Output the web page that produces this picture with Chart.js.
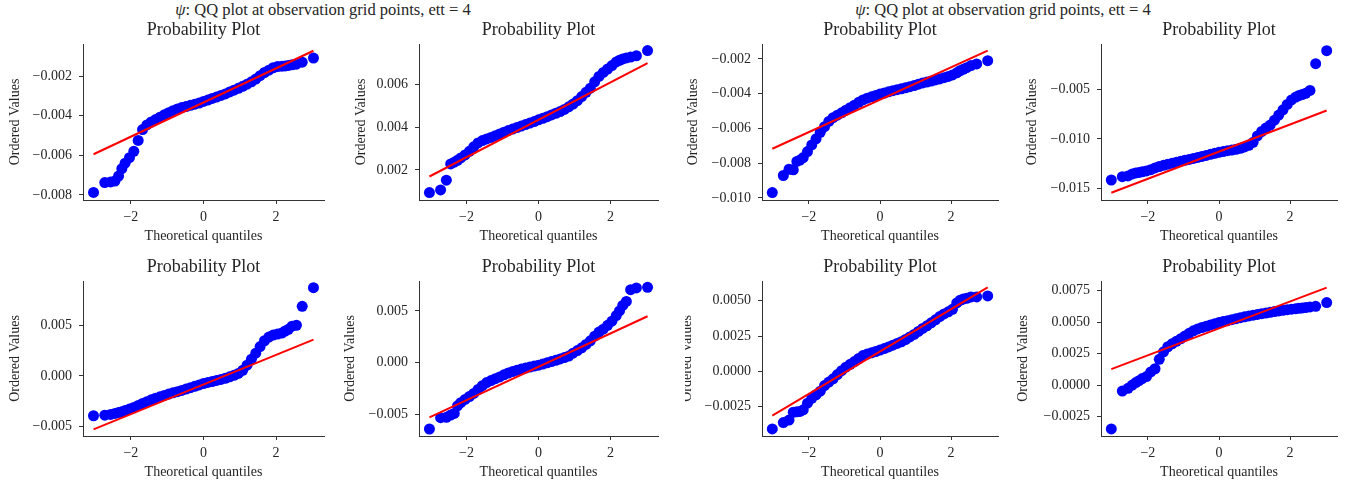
<!DOCTYPE html>
<html><head><meta charset="utf-8">
<script src="https://cdn.jsdelivr.net/npm/chart.js@4.4.1/dist/chart.umd.min.js"></script>
<style>
html,body{margin:0;padding:0;background:#fff;width:1345px;height:487px;overflow:hidden;position:relative;font-family:"Liberation Serif",serif;}
canvas{position:absolute;}
.sup{position:absolute;top:0;font-size:16.5px;line-height:19px;color:#262626;white-space:nowrap;transform:translateX(-50%);}
</style></head><body>
<div class="sup" style="left:323px"><i>ψ</i>: QQ plot at observation grid points, ett = 4</div>
<div class="sup" style="left:1003px"><i>ψ</i>: QQ plot at observation grid points, ett = 4</div>
<script>
// ---------- data ----------
const panelTitle = 'Probability Plot';
const xAxisTitle = 'Theoretical quantiles';
const yAxisTitle = 'Ordered Values';
const xTickLabels = ['−2', '0', '2'];

const quantiles = [-3.03, -2.72, -2.56, -2.44, -2.34, -2.25, -2.16, -2.04, -1.92, -1.80, -1.68, -1.56, -1.44, -1.32, -1.20, -1.08, -0.96, -0.84, -0.72, -0.60, -0.48, -0.36, -0.24, -0.12, 0, 0.12, 0.24, 0.36, 0.48, 0.60, 0.72, 0.84, 0.96, 1.08, 1.20, 1.32, 1.44, 1.56, 1.68, 1.80, 1.92, 2.04, 2.16, 2.25, 2.34, 2.44, 2.56, 2.72, 3.03];

const ordered1 = [-0.00788, -0.00738, -0.00735, -0.00730, -0.00705, -0.00668, -0.00640, -0.00612, -0.00580, -0.00525, -0.00470, -0.00447, -0.00432, -0.00420, -0.00408, -0.00396, -0.00385, -0.00375, -0.00366, -0.00359, -0.00354, -0.00348, -0.00342, -0.00336, -0.00328, -0.00321, -0.00313, -0.00306, -0.00298, -0.00290, -0.00280, -0.00271, -0.00262, -0.00252, -0.00241, -0.00229, -0.00215, -0.00198, -0.00182, -0.00170, -0.00158, -0.00152, -0.00150, -0.00149, -0.00146, -0.00143, -0.00140, -0.00130, -0.00109];
const ordered2 = [0.00094, 0.00106, 0.00152, 0.00228, 0.00236, 0.00245, 0.00256, 0.00270, 0.00287, 0.00308, 0.00326, 0.00337, 0.00345, 0.00352, 0.00360, 0.00368, 0.00376, 0.00384, 0.00391, 0.00398, 0.00405, 0.00412, 0.00419, 0.00426, 0.00434, 0.00441, 0.00449, 0.00457, 0.00465, 0.00473, 0.00483, 0.00495, 0.00508, 0.00524, 0.00543, 0.00563, 0.00582, 0.00612, 0.00637, 0.00656, 0.00672, 0.00688, 0.00705, 0.00713, 0.00719, 0.00724, 0.00728, 0.00734, 0.00758];
const ordered3 = [-0.00969, -0.00871, -0.00835, -0.00838, -0.00790, -0.00782, -0.00768, -0.00733, -0.00695, -0.00660, -0.00622, -0.00590, -0.00560, -0.00538, -0.00524, -0.00510, -0.00495, -0.00481, -0.00466, -0.00450, -0.00436, -0.00426, -0.00418, -0.00410, -0.00402, -0.00396, -0.00389, -0.00383, -0.00377, -0.00372, -0.00366, -0.00360, -0.00353, -0.00345, -0.00338, -0.00333, -0.00327, -0.00321, -0.00315, -0.00308, -0.00301, -0.00292, -0.00280, -0.00268, -0.00260, -0.00250, -0.00238, -0.00229, -0.00210];
const ordered4 = [-0.01417, -0.01383, -0.01376, -0.01356, -0.01345, -0.01340, -0.01334, -0.01325, -0.01312, -0.01295, -0.01280, -0.01268, -0.01257, -0.01248, -0.01238, -0.01227, -0.01217, -0.01208, -0.01198, -0.01188, -0.01178, -0.01168, -0.01156, -0.01146, -0.01136, -0.01128, -0.01120, -0.01113, -0.01105, -0.01095, -0.01082, -0.01065, -0.01035, -0.00970, -0.00925, -0.00890, -0.00860, -0.00810, -0.00758, -0.00705, -0.00650, -0.00605, -0.00575, -0.00560, -0.00550, -0.00538, -0.00508, -0.00237, -0.00105];
const ordered5 = [-0.00396, -0.00390, -0.00383, -0.00373, -0.00365, -0.00356, -0.00345, -0.00330, -0.00313, -0.00294, -0.00274, -0.00256, -0.00238, -0.00222, -0.00208, -0.00194, -0.00181, -0.00169, -0.00157, -0.00145, -0.00131, -0.00117, -0.00104, -0.00090, -0.00076, -0.00066, -0.00057, -0.00046, -0.00036, -0.00024, -0.00010, 0.00005, 0.00024, 0.00055, 0.00106, 0.00165, 0.00225, 0.00290, 0.00348, 0.00385, 0.00405, 0.00415, 0.00425, 0.00445, 0.00462, 0.00493, 0.00502, 0.00690, 0.00875];
const ordered6 = [-0.00645, -0.00535, -0.00532, -0.00510, -0.00494, -0.00420, -0.00390, -0.00358, -0.00330, -0.00300, -0.00262, -0.00225, -0.00195, -0.00175, -0.00157, -0.00140, -0.00120, -0.00102, -0.00088, -0.00076, -0.00064, -0.00054, -0.00045, -0.00035, -0.00026, -0.00015, -0.00003, 0.00009, 0.00021, 0.00034, 0.00047, 0.00062, 0.00090, 0.00115, 0.00142, 0.00175, 0.00210, 0.00255, 0.00295, 0.00323, 0.00360, 0.00400, 0.00455, 0.00500, 0.00553, 0.00592, 0.00706, 0.00723, 0.00729];
const ordered7 = [-0.00407, -0.00362, -0.00344, -0.00289, -0.00286, -0.00283, -0.00272, -0.00225, -0.00190, -0.00165, -0.00140, -0.00100, -0.00075, -0.00052, -0.00022, 0.00005, 0.00030, 0.00050, 0.00070, 0.00092, 0.00112, 0.00123, 0.00132, 0.00141, 0.00151, 0.00162, 0.00173, 0.00186, 0.00198, 0.00210, 0.00226, 0.00244, 0.00262, 0.00283, 0.00304, 0.00323, 0.00344, 0.00365, 0.00388, 0.00407, 0.00422, 0.00440, 0.00485, 0.00503, 0.00512, 0.00518, 0.00527, 0.00527, 0.00534];
const ordered8 = [-0.00349, -0.00048, -0.00026, 0.00000, 0.00020, 0.00035, 0.00052, 0.00068, 0.00105, 0.00130, 0.00205, 0.00265, 0.00305, 0.00328, 0.00348, 0.00368, 0.00390, 0.00412, 0.00432, 0.00447, 0.00458, 0.00468, 0.00478, 0.00488, 0.00497, 0.00505, 0.00512, 0.00520, 0.00528, 0.00536, 0.00543, 0.00550, 0.00556, 0.00562, 0.00568, 0.00573, 0.00579, 0.00585, 0.00590, 0.00595, 0.00600, 0.00604, 0.00608, 0.00611, 0.00614, 0.00617, 0.00622, 0.00627, 0.00656];

// least-squares fit line, value at lowest and highest theoretical quantile
const fitLow  = [-0.00595, 0.00169, -0.00717, -0.01546, -0.00531, -0.00532, -0.00313, 0.00127];
const fitHigh = [-0.00072, 0.00700, -0.00152, -0.00712, 0.00360, 0.00448, 0.00595, 0.00775];

const yTickLabels1 = ['−0.008', '−0.006', '−0.004', '−0.002'];
const yTickLabels2 = ['0.002', '0.004', '0.006'];
const yTickLabels3 = ['−0.010', '−0.008', '−0.006', '−0.004', '−0.002'];
const yTickLabels4 = ['−0.015', '−0.010', '−0.005'];
const yTickLabels5 = ['−0.005', '0.000', '0.005'];
const yTickLabels6 = ['−0.005', '0.000', '0.005'];
const yTickLabels7 = ['−0.0025', '0.0000', '0.0025', '0.0050'];
const yTickLabels8 = ['−0.0025', '0.0000', '0.0025', '0.0050', '0.0075'];

const yMin = [-0.00826, 0.00059, -0.01012, -0.0162, -0.00597, -0.00713, -0.00457, -0.00405];
const yMax = [-0.00038, 0.00789, -0.00114, -0.00037, 0.00941, 0.0079, 0.0064, 0.00828];

// ---------- layout ----------
const series = [ordered1, ordered2, ordered3, ordered4, ordered5, ordered6, ordered7, ordered8];
const yTicks = [yTickLabels1, yTickLabels2, yTickLabels3, yTickLabels4, yTickLabels5, yTickLabels6, yTickLabels7, yTickLabels8];
const cols = [[83, 324], [419, 658], [762, 998], [1101, 1337]];
const rows = [[44, 200], [281, 436]];
const ylabGap = [68, 58, 69, 69, 68, 69, 75, 78];
const clipLeft = [0, 0, 0, 0, 0, 0, 15, 0];
const Y_W = 92, X_H = 50, PAD_R = 6;
const FONT = 'Liberation Serif';
const TXT = '#262626';
const AX = '#333333';

const titlePlugin = {
  id: 'panelTitle',
  afterDraw(chart) {
    const a = chart.chartArea, ctx = chart.ctx;
    ctx.save();
    ctx.font = '18px "' + FONT + '"';
    ctx.fillStyle = TXT;
    ctx.textAlign = 'center';
    ctx.textBaseline = 'alphabetic';
    ctx.fillText(panelTitle, (a.left + a.right) / 2, a.top - 9);
    ctx.restore();
  }
};

const toNum = s => parseFloat(s.replace('−', '-'));

series.forEach((vals, i) => {
  const [L, R] = cols[i % 4];
  const [T, B] = rows[Math.floor(i / 4)];
  const cv = document.createElement('canvas');
  const w = (R - L) + Y_W + PAD_R;
  cv.width = w; cv.height = (B - T) + 44 + X_H;
  cv.style.left = (L - Y_W) + 'px';
  cv.style.top = (T - 44) + 'px';
  cv.style.width = w + 'px';
  cv.style.height = cv.height + 'px';
  if (clipLeft[i]) cv.style.clipPath = 'inset(0 0 0 ' + clipLeft[i] + 'px)';
  document.body.appendChild(cv);
  const labels = yTicks[i];
  const qMin = quantiles[0], qMax = quantiles[quantiles.length - 1];
  new Chart(cv, {
    type: 'scatter',
    data: {
      datasets: [
        { type: 'line', data: [{x: qMin, y: fitLow[i]}, {x: qMax, y: fitHigh[i]}],
          borderColor: '#ff0000', borderWidth: 2, pointRadius: 0, fill: false, tension: 0 },
        { data: quantiles.map((q, k) => ({x: q, y: vals[k]})),
          backgroundColor: '#0000ff', borderColor: '#0000ff', pointRadius: 5.5, pointBorderWidth: 0 }
      ]
    },
    options: {
      responsive: false, animation: false, devicePixelRatio: 1, events: [],
      layout: { padding: { top: 44, left: 0, right: PAD_R, bottom: 0 } },
      plugins: { legend: { display: false }, tooltip: { enabled: false }, title: { display: false } },
      scales: {
        x: {
          type: 'linear', min: -3.32, max: 3.32,
          afterFit(s) { s.height = X_H; },
          afterBuildTicks(s) { s.ticks = xTickLabels.map(l => ({ value: toNum(l) })); },
          ticks: { autoSkip: false, maxRotation: 0, padding: 5, color: TXT, font: { family: FONT, size: 14 },
                   callback: (v, k) => xTickLabels[k] },
          grid: { drawOnChartArea: false, drawTicks: true, tickLength: 4, color: AX, tickWidth: 1 },
          border: { display: true, color: AX, width: 1 },
          title: { display: true, text: xAxisTitle, color: TXT, font: { family: FONT, size: 14 }, padding: { top: 0, bottom: 5.6 } }
        },
        y: {
          type: 'linear', min: yMin[i], max: yMax[i],
          afterFit(s) { s.width = Y_W; },
          afterBuildTicks(s) { s.ticks = labels.map(l => ({ value: toNum(l) })); },
          ticks: { autoSkip: false, padding: 7, color: TXT, font: { family: FONT, size: 14 },
                   callback: (v, k) => labels[k] },
          grid: { drawOnChartArea: false, drawTicks: true, tickLength: 4, color: AX, tickWidth: 1 },
          border: { display: true, color: AX, width: 1 },
          title: { display: true, text: yAxisTitle, color: TXT, font: { family: FONT, size: 14 },
                   padding: { top: Y_W - ylabGap[i] - 8.4, bottom: 0 } }
        }
      }
    },
    plugins: [titlePlugin]
  });
});
</script>
</body></html>
